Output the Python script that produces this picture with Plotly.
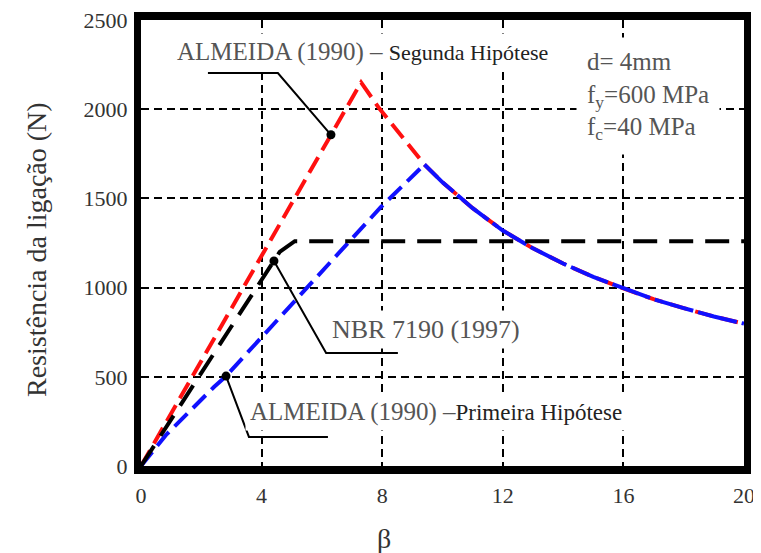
import numpy as np
import plotly.graph_objects as go

# ---- data ----
beta_nbr = [0, 3.8, 4.6, 5.1, 20]
r_nbr = [0, 985, 1200, 1260, 1260]

beta_h2 = [0, 1.76, 3.38, 7.3, 7.9, 8.6, 9.4, 10, 11, 12, 13, 14, 15, 16, 17, 18, 19, 20]
r_h2 = [0, 520, 1000, 2150, 2005, 1860, 1690, 1590, 1445, 1320, 1220, 1135, 1060, 995, 935, 885, 838, 798]

beta_h1 = [0, 0.83, 2.42, 2.82, 7.96, 9.4, 10, 11, 12, 13, 14, 15, 16, 17, 18, 19, 20]
r_h1 = [0, 174, 443, 504, 1452, 1690, 1590, 1445, 1320, 1220, 1135, 1060, 995, 935, 885, 838, 798]

x_ticks = [0, 4, 8, 12, 16, 20]
y_ticks = [0, 500, 1000, 1500, 2000, 2500]

FONT = "Liberation Serif"

fig = go.Figure()

# red: segunda hipotese
fig.add_trace(go.Scatter(x=beta_h2, y=r_h2, mode="lines",
                         line=dict(color="#ff1010", width=4, dash="18px,8px"),
                         showlegend=False, hoverinfo="skip"))

# blue: primeira hipotese (rising part dashed, descending nearly continuous)
ipk = int(np.argmax(r_h1))
fig.add_trace(go.Scatter(x=beta_h1[:ipk + 1], y=r_h1[:ipk + 1], mode="lines",
                         line=dict(color="#1010ff", width=4, dash="18px,8px"),
                         showlegend=False, hoverinfo="skip"))
fig.add_trace(go.Scatter(x=beta_h1[ipk:], y=r_h1[ipk:], mode="lines",
                         line=dict(color="#1010ff", width=4, dash="40px,5px"),
                         showlegend=False, hoverinfo="skip"))

# black: NBR 7190
fig.add_trace(go.Scatter(x=beta_nbr, y=r_nbr, mode="lines",
                         line=dict(color="black", width=4, dash="24px,12px"),
                         showlegend=False, hoverinfo="skip"))

# annotation dots on curves
b_dot2, b_dotn, b_dot1 = 6.30, 4.41, 2.82
y_dot2 = float(np.interp(b_dot2, beta_h2, r_h2))
y_dotn = float(np.interp(b_dotn, beta_nbr, r_nbr))
y_dot1 = float(np.interp(b_dot1, beta_h1, r_h1))
fig.add_trace(go.Scatter(x=[b_dot2, b_dotn, b_dot1], y=[y_dot2, y_dotn, y_dot1],
                         mode="markers", marker=dict(color="black", size=9),
                         showlegend=False, hoverinfo="skip"))

# leader lines
leaders = [
    [(2.22, 2203), (4.54, 2203), (b_dot2, y_dot2)],
    [(b_dotn, y_dotn), (6.14, 633), (8.52, 633)],
    [(b_dot1, y_dot1), (3.58, 163), (6.2, 163)],
]
for pts in leaders:
    path = "M " + " L ".join(f"{a},{b}" for a, b in pts)
    fig.add_shape(type="path", path=path, xref="x", yref="y",
                  line=dict(color="black", width=2))

W, H = 761, 553
# actual plot-area edges wanted (pixels)
X0, X1, Y0, Y1 = 140, 743, 20, 466
LWX, LWY = 8, 7           # x-axis / y-axis line widths (plotly shifts area by these)
pw, ph = X1 - X0, Y1 - Y0


def px(xp):
    return (xp - X0) / pw


def py(yp):
    return (Y1 - yp) / ph


ann = [
    dict(x=px(171), y=py(52), xanchor="left", yanchor="middle",
         text='<span style="color:#555">ALMEIDA (1990) – </span>'
              '<span style="font-size:22px;color:#222">Segunda Hipótese</span>',
         font=dict(size=25)),
    dict(x=px(326), y=py(329), xanchor="left", yanchor="middle",
         text="NBR 7190 (1997)", font=dict(size=26, color="#555")),
    dict(x=px(244), y=py(412), xanchor="left", yanchor="middle",
         text='<span style="color:#555">ALMEIDA (1990) –</span>'
              '<span style="font-size:23px;color:#222">Primeira Hipótese</span>',
         font=dict(size=25)),
    dict(x=px(575), y=py(96), xanchor="left", yanchor="middle", align="left",
         text="d= 4mm<br>f<sub>y</sub>=600 MPa<br>f<sub>c</sub>=40 MPa",
         font=dict(size=25, color="#555"), borderpad=10),
    # axis titles
    dict(x=px(36), y=py(250), xanchor="center", yanchor="middle", textangle=-90,
         text="Resistência da ligação (N)", font=dict(size=28, color="#333"),
         bgcolor="rgba(0,0,0,0)", borderpad=0),
    dict(x=px(383), y=py(538), xanchor="center", yanchor="middle",
         text="β", font=dict(size=28, color="#333"),
         bgcolor="rgba(0,0,0,0)", borderpad=0),
]
for a in ann:
    a.setdefault("borderpad", 4)
    a.setdefault("bgcolor", "white")
    a.update(xref="paper", yref="paper", showarrow=False)
    a["font"]["family"] = FONT
    fig.add_annotation(**a)

fig.update_layout(
    width=W, height=H,
    margin=dict(l=X0 - LWY, r=W - X1 + LWY, t=Y0 - LWX, b=H - Y1 + LWX, autoexpand=False),
    paper_bgcolor="white", plot_bgcolor="white",
    font=dict(family=FONT, color="#333"),
    xaxis=dict(range=[0, 20], tickvals=x_ticks, ticktext=[str(v) for v in x_ticks],
               showgrid=True, gridcolor="black", gridwidth=2, griddash="8px,5px",
               zeroline=False, showline=True, linecolor="black", linewidth=LWX,
               mirror=True, ticks="", automargin=False, ticklabelstandoff=3,
               ticklabeloverflow="allow",
               tickfont=dict(size=22, color="#333")),
    yaxis=dict(range=[0, 2500], tickvals=y_ticks, ticktext=[str(v) for v in y_ticks],
               showgrid=True, gridcolor="black", gridwidth=2, griddash="8px,5px",
               zeroline=False, showline=True, linecolor="black", linewidth=LWY,
               mirror=True, ticks="", automargin=False, ticklabelstandoff=2,
               ticklabeloverflow="allow",
               tickfont=dict(size=22, color="#333")),
)

fig.write_html("out.html")
